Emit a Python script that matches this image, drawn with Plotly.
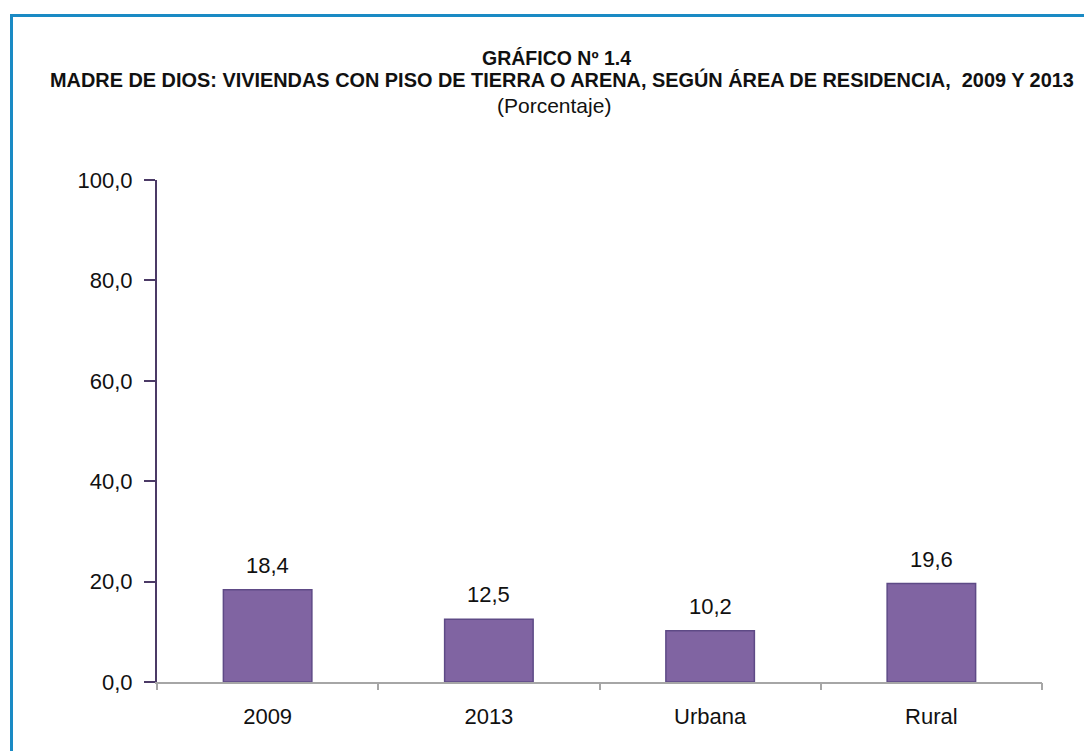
import plotly.graph_objects as go

categories = ["2009", "2013", "Urbana", "Rural"]
values = [18.4, 12.5, 10.2, 19.6]
y_ticks = [0, 20, 40, 60, 80, 100]

title1 = "GRÁFICO Nº 1.4"
title2 = "MADRE DE DIOS: VIVIENDAS CON PISO DE TIERRA O ARENA, SEGÚN ÁREA DE RESIDENCIA,  2009 Y 2013"
title3 = "(Porcentaje)"

W, H = 1084, 751
L, R, T, B = 157, 42, 180, 69
PW, PH = W - L - R, H - T - B

def px_x(x):
    return (x - L) / PW

def px_y(y):
    return 1 - (y - T) / PH

FONT = "Liberation Sans Narrow, Arial Narrow, Liberation Sans, Arial, sans-serif"
TXT = "#111111"

fig = go.Figure()
fig.add_trace(go.Bar(
    x=list(range(len(categories))), y=values,
    marker=dict(color="#8064A2", line=dict(color="#5E4A86", width=1.5)),
    width=0.4, hoverinfo="skip",
))

for i, v in enumerate(values):
    fig.add_annotation(x=i, y=v, xref="x", yref="y", text=f"{v:.1f}".replace(".", ","),
                       showarrow=False, yanchor="bottom", yshift=10,
                       font=dict(family=FONT, size=22, color=TXT))

fig.add_annotation(x=px_x(556), xref="paper", y=px_y(57.5), yref="paper", text=f"<b>{title1}</b>",
                   showarrow=False, xanchor="center", yanchor="middle",
                   font=dict(family=FONT, size=19.5, color=TXT))
fig.add_annotation(x=px_x(561.5), xref="paper", y=px_y(80), yref="paper", text=f"<b>{title2}</b>",
                   showarrow=False, xanchor="center", yanchor="middle",
                   font=dict(family=FONT, size=19.9, color=TXT))
fig.add_annotation(x=px_x(553.5), xref="paper", y=px_y(106), yref="paper", text=title3,
                   showarrow=False, xanchor="center", yanchor="middle",
                   font=dict(family=FONT, size=21, color=TXT))

fig.add_shape(type="rect", xref="paper", yref="paper",
              x0=px_x(11.5), y0=px_y(800), x1=px_x(1120), y1=px_y(15.5),
              line=dict(color="#1A8AC4", width=3), fillcolor="rgba(0,0,0,0)", layer="below")

fig.update_layout(
    width=W, height=H,
    margin=dict(l=L, r=R, t=T, b=B, pad=0, autoexpand=False),
    paper_bgcolor="white", plot_bgcolor="white",
    separators=",.",
    showlegend=False,
    hovermode=False,
    font=dict(family=FONT, size=22, color=TXT),
)
fig.update_xaxes(
    type="linear", range=[-0.5, len(categories) - 0.5],
    tickvals=list(range(len(categories))), ticktext=categories,
    showline=True, linecolor="#A6A6A6", linewidth=2,
    ticks="", showgrid=False, zeroline=False, automargin=False, ticklabelstandoff=14,
    tickfont=dict(family=FONT, size=22, color=TXT),
)
# boundary tick marks on a secondary overlaying axis
fig.update_layout(xaxis2=dict(
    overlaying="x", range=[-0.5, len(categories) - 0.5],
    tickvals=[i - 0.5 for i in range(len(categories) + 1)],
    showticklabels=False, ticks="outside", ticklen=7, tickcolor="#A6A6A6", tickwidth=2,
    showline=False, showgrid=False, zeroline=False, side="bottom", automargin=False,
))
fig.add_trace(go.Scatter(x=[None], y=[None], xaxis="x2", showlegend=False, hoverinfo="skip"))
fig.update_yaxes(
    range=[0, 100], tickvals=y_ticks, tickformat=".1f",
    showline=True, linecolor="#4B3A66", linewidth=2,
    ticks="outside", ticklen=11, tickcolor="#4B3A66", tickwidth=2,
    showgrid=False, zeroline=False, ticklabelstandoff=7, automargin=False,
    tickfont=dict(family=FONT, size=22, color=TXT),
)

fig.write_html("out.html", config={"displayModeBar": False, "staticPlot": True},
               post_script="document.body.style.margin='0';")
